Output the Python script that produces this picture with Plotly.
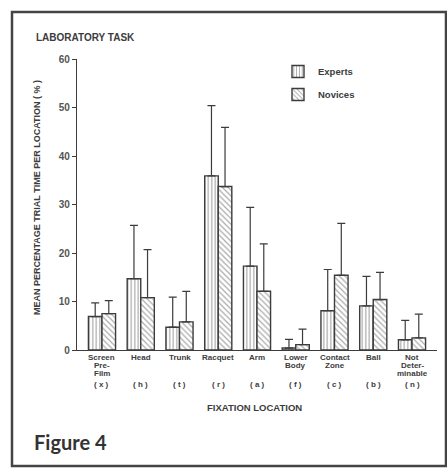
import plotly.graph_objects as go

# Fixation locations (one entry per label line) and their short codes
locations = [["Screen", "Pre-", "Film"], ["Head"], ["Trunk"], ["Racquet"], ["Arm"],
             ["Lower", "Body"], ["Contact", "Zone"], ["Ball"], ["Not", "Deter-", "minable"]]
codes = ["( x )", "( h )", "( t )", "( r )", "( a )", "( f )", "( c )", "( b )", "( n )"]

# Mean percentage of trial time per location and standard deviations
experts = [6.9, 14.7, 4.7, 35.9, 17.3, 0.4, 8.1, 9.1, 2.1]
experts_sd = [2.8, 11.0, 6.2, 14.5, 12.1, 1.8, 8.5, 6.1, 4.0]
novices = [7.5, 10.8, 5.8, 33.7, 12.1, 1.1, 15.4, 10.4, 2.5]
novices_sd = [2.7, 9.9, 6.3, 12.2, 9.8, 3.2, 10.7, 5.6, 4.9]

y_ticks = [0, 10, 20, 30, 40, 50, 60]

W, H = 447, 469
PL, PR, PT, PB = 77, 437, 59, 350  # plot area in pixels


def px(x):
    return (x - PL) / (PR - PL)


def py(y):
    return (PB - y) / (PB - PT)


INK = "#3c3c3c"
FONT = "Liberation Sans"
xpos = list(range(len(locations)))

fig = go.Figure()
fig.add_trace(go.Bar(
    x=xpos, y=experts, name="<b>Experts</b>", legendgroup="e",
    marker=dict(color="white", line=dict(color=INK, width=1.4),
                pattern=dict(shape="|", fgcolor="#555", bgcolor="white",
                             size=3.5, solidity=0.35)),
    error_y=dict(type="data", array=experts_sd, arrayminus=[0] * len(experts),
                 symmetric=False, color=INK, thickness=1.2, width=4),
))
fig.add_trace(go.Bar(
    x=xpos, y=novices, name="<b>Novices</b>", legendgroup="n",
    marker=dict(color="white", line=dict(color=INK, width=1.4),
                pattern=dict(shape="\\", fgcolor="#555", bgcolor="white",
                             size=4, solidity=0.3)),
    error_y=dict(type="data", array=novices_sd, arrayminus=[0] * len(novices),
                 symmetric=False, color=INK, thickness=1.2, width=4),
))

annotations = [
    dict(text="<b>LABORATORY TASK</b>", x=px(34), y=py(37), xref="paper", yref="paper",
         xanchor="left", yanchor="middle", showarrow=False,
         font=dict(family=FONT, size=10, color=INK)),
    dict(text="<b>MEAN PERCENTAGE TRIAL TIME PER LOCATION ( % )</b>", x=px(37), y=py(198),
         xref="paper", yref="paper", textangle=-90, xanchor="center", yanchor="middle",
         showarrow=False, font=dict(family=FONT, size=9, color=INK)),
    dict(text="<b>FIXATION LOCATION</b>", x=px(254), y=py(407), xref="paper", yref="paper",
         xanchor="center", yanchor="middle", showarrow=False,
         font=dict(family=FONT, size=9.5, color=INK)),
    dict(text="<b>Figure 4</b>", x=px(32), y=py(442), xref="paper", yref="paper",
         xanchor="left", yanchor="middle", showarrow=False,
         font=dict(family="Lato", size=20, color="#333")),
]
# Category labels, one line at a time with tight line spacing, then the codes
for i, lines in enumerate(locations):
    for k, line in enumerate(lines):
        annotations.append(dict(text="<b>" + line + "</b>", x=i, y=py(357 + 8 * k),
                                xref="x", yref="paper", xanchor="center", yanchor="middle",
                                showarrow=False, font=dict(family=FONT, size=8, color=INK)))
    annotations.append(dict(text="<b>" + codes[i] + "</b>", x=i, y=py(384), xref="x",
                            yref="paper", xanchor="center", yanchor="middle", showarrow=False,
                            font=dict(family=FONT, size=8, color=INK)))

fig.update_layout(
    width=W, height=H,
    margin=dict(l=PL, r=W - PR, t=PT, b=H - PB),
    paper_bgcolor="white", plot_bgcolor="white",
    barmode="group", bargap=0.3, bargroupgap=0.0,
    showlegend=True,
    legend=dict(x=px(278), y=py(57), xanchor="left", yanchor="top",
                bgcolor="rgba(0,0,0,0)", tracegroupgap=4,
                font=dict(family=FONT, size=9.5, color=INK)),
    xaxis=dict(range=[-0.645, 8.645], tickmode="array", tickvals=xpos,
               showticklabels=False, ticks="",
               showline=True, linecolor=INK, linewidth=1.3, showgrid=False, zeroline=False),
    yaxis=dict(range=[0, 60], tickmode="array", tickvals=y_ticks,
               ticktext=["<b>%d</b>" % v for v in y_ticks], ticks="outside", ticklen=4,
               tickcolor=INK, showline=True, linecolor=INK, linewidth=1.3, showgrid=False,
               zeroline=False, tickfont=dict(family=FONT, size=10, color="#555")),
    annotations=annotations,
    shapes=[dict(type="rect", xref="paper", yref="paper",
                 x0=px(12), x1=px(446), y0=py(466), y1=py(12),
                 line=dict(color="#444", width=2.5), fillcolor="rgba(0,0,0,0)")],
)

fig.write_html("out.html")
